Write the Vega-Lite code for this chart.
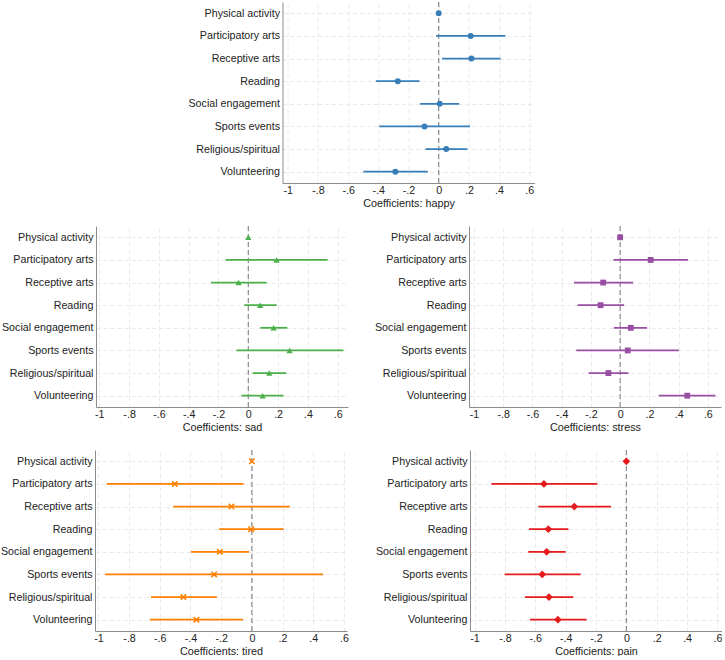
{
  "$schema": "https://vega.github.io/schema/vega-lite/v6.json",
  "padding": {"left": 0, "top": 1, "right": 0, "bottom": 0},
  "background": "white",
  "datasets": {
    "coefs": [
      {"outcome": "happy", "activity": "Physical activity", "coef": 0},
      {"outcome": "happy", "activity": "Participatory arts", "coef": 0.212, "lo": -0.018, "hi": 0.442},
      {"outcome": "happy", "activity": "Receptive arts", "coef": 0.217, "lo": 0.022, "hi": 0.411},
      {"outcome": "happy", "activity": "Reading", "coef": -0.271, "lo": -0.416, "hi": -0.127},
      {"outcome": "happy", "activity": "Social engagement", "coef": 0.007, "lo": -0.123, "hi": 0.136},
      {"outcome": "happy", "activity": "Sports events", "coef": -0.094, "lo": -0.394, "hi": 0.208},
      {"outcome": "happy", "activity": "Religious/spiritual", "coef": 0.05, "lo": -0.088, "hi": 0.19},
      {"outcome": "happy", "activity": "Volunteering", "coef": -0.287, "lo": -0.499, "hi": -0.072},

      {"outcome": "sad", "activity": "Physical activity", "coef": 0},
      {"outcome": "sad", "activity": "Participatory arts", "coef": 0.19, "lo": -0.152, "hi": 0.532},
      {"outcome": "sad", "activity": "Receptive arts", "coef": -0.065, "lo": -0.25, "hi": 0.123},
      {"outcome": "sad", "activity": "Reading", "coef": 0.08, "lo": -0.027, "hi": 0.19},
      {"outcome": "sad", "activity": "Social engagement", "coef": 0.17, "lo": 0.08, "hi": 0.262},
      {"outcome": "sad", "activity": "Sports events", "coef": 0.277, "lo": -0.08, "hi": 0.638},
      {"outcome": "sad", "activity": "Religious/spiritual", "coef": 0.141, "lo": 0.029, "hi": 0.255},
      {"outcome": "sad", "activity": "Volunteering", "coef": 0.096, "lo": -0.047, "hi": 0.237},

      {"outcome": "stress", "activity": "Physical activity", "coef": 0},
      {"outcome": "stress", "activity": "Participatory arts", "coef": 0.209, "lo": -0.045, "hi": 0.464},
      {"outcome": "stress", "activity": "Receptive arts", "coef": -0.116, "lo": -0.316, "hi": 0.089},
      {"outcome": "stress", "activity": "Reading", "coef": -0.134, "lo": -0.291, "hi": 0.027},
      {"outcome": "stress", "activity": "Social engagement", "coef": 0.073, "lo": -0.043, "hi": 0.184},
      {"outcome": "stress", "activity": "Sports events", "coef": 0.052, "lo": -0.3, "hi": 0.402},
      {"outcome": "stress", "activity": "Religious/spiritual", "coef": -0.08, "lo": -0.216, "hi": 0.057},
      {"outcome": "stress", "activity": "Volunteering", "coef": 0.459, "lo": 0.264, "hi": 0.652},

      {"outcome": "tired", "activity": "Physical activity", "coef": 0},
      {"outcome": "tired", "activity": "Participatory arts", "coef": -0.502, "lo": -0.946, "hi": -0.054},
      {"outcome": "tired", "activity": "Receptive arts", "coef": -0.133, "lo": -0.513, "hi": 0.248},
      {"outcome": "tired", "activity": "Reading", "coef": -0.004, "lo": -0.213, "hi": 0.207},
      {"outcome": "tired", "activity": "Social engagement", "coef": -0.209, "lo": -0.396, "hi": -0.017},
      {"outcome": "tired", "activity": "Sports events", "coef": -0.246, "lo": -0.957, "hi": 0.465},
      {"outcome": "tired", "activity": "Religious/spiritual", "coef": -0.446, "lo": -0.657, "hi": -0.228},
      {"outcome": "tired", "activity": "Volunteering", "coef": -0.361, "lo": -0.665, "hi": -0.057},

      {"outcome": "pain", "activity": "Physical activity", "coef": 0},
      {"outcome": "pain", "activity": "Participatory arts", "coef": -0.543, "lo": -0.89, "hi": -0.191},
      {"outcome": "pain", "activity": "Receptive arts", "coef": -0.343, "lo": -0.58, "hi": -0.101},
      {"outcome": "pain", "activity": "Reading", "coef": -0.514, "lo": -0.642, "hi": -0.382},
      {"outcome": "pain", "activity": "Social engagement", "coef": -0.525, "lo": -0.646, "hi": -0.4},
      {"outcome": "pain", "activity": "Sports events", "coef": -0.554, "lo": -0.802, "hi": -0.301},
      {"outcome": "pain", "activity": "Religious/spiritual", "coef": -0.51, "lo": -0.668, "hi": -0.349},
      {"outcome": "pain", "activity": "Volunteering", "coef": -0.451, "lo": -0.635, "hi": -0.262}
    ]
  },
  "data": {"name": "coefs"},
  "center": true,
  "spacing": 17,
  "vconcat": [
    {
      "width": 252, "height": 181,
      "transform": [{"filter": "datum.outcome === 'happy'"}],
      "layer": [
        {
          "transform": [{"filter": "datum.activity === 'Physical activity'"}],
          "mark": {"type": "rule", "color": "#8a8a8a", "strokeDash": [5, 3], "strokeWidth": 1.2},
          "encoding": {"x": {"datum": 0, "type": "quantitative", "scale": {"domain": [-1.035, 0.635], "nice": false, "zero": false}, "title": "Coefficients: happy",
            "axis": {"values": [-1, -0.8, -0.6, -0.4, -0.2, 0, 0.2, 0.4, 0.6], "labelOverlap": false, "labelExpr": "datum.value == 0 ? '0' : datum.value == -1 ? '-1' : (datum.value < 0 ? '-' : '') + '.' + round(abs(datum.value) * 10)", "grid": true}}}
        },
        {
          "mark": {"type": "rule", "color": "#377eb8", "strokeWidth": 1.8},
          "encoding": {
            "x": {"field": "lo", "type": "quantitative", "scale": {"domain": [-1.035, 0.635], "nice": false, "zero": false}, "title": "Coefficients: happy", "axis": {"values": [-1, -0.8, -0.6, -0.4, -0.2, 0, 0.2, 0.4, 0.6], "labelOverlap": false, "labelExpr": "datum.value == 0 ? '0' : datum.value == -1 ? '-1' : (datum.value < 0 ? '-' : '') + '.' + round(abs(datum.value) * 10)", "grid": true}},
            "x2": {"field": "hi"},
            "y": {"field": "activity", "type": "nominal", "sort": ["Physical activity", "Participatory arts", "Receptive arts", "Reading", "Social engagement", "Sports events", "Religious/spiritual", "Volunteering"], "scale": {"type": "point", "padding": 0.5}, "axis": {"title": null, "grid": true}}
          }
        },
        {
          "mark": {"type": "point", "filled": true, "opacity": 1, "shape": "circle", "size": 36, "color": "#377eb8"},
          "encoding": {
            "x": {"field": "coef", "type": "quantitative", "scale": {"domain": [-1.035, 0.635], "nice": false, "zero": false}, "title": "Coefficients: happy", "axis": {"values": [-1, -0.8, -0.6, -0.4, -0.2, 0, 0.2, 0.4, 0.6], "labelOverlap": false, "labelExpr": "datum.value == 0 ? '0' : datum.value == -1 ? '-1' : (datum.value < 0 ? '-' : '') + '.' + round(abs(datum.value) * 10)", "grid": true}},
            "y": {"field": "activity", "type": "nominal", "sort": ["Physical activity", "Participatory arts", "Receptive arts", "Reading", "Social engagement", "Sports events", "Religious/spiritual", "Volunteering"], "scale": {"type": "point", "padding": 0.5}, "axis": {"title": null, "grid": true}}
          }
        }
      ]
    },
    {
      "spacing": 26,
      "hconcat": [
        {
          "width": 252, "height": 181,
          "transform": [{"filter": "datum.outcome === 'sad'"}],
          "layer": [
            {
              "transform": [{"filter": "datum.activity === 'Physical activity'"}],
              "mark": {"type": "rule", "color": "#8a8a8a", "strokeDash": [5, 3], "strokeWidth": 1.2},
              "encoding": {"x": {"datum": 0, "type": "quantitative", "scale": {"domain": [-1.022, 0.669], "nice": false, "zero": false}, "title": "Coefficients: sad",
                "axis": {"values": [-1, -0.8, -0.6, -0.4, -0.2, 0, 0.2, 0.4, 0.6], "labelOverlap": false, "labelExpr": "datum.value == 0 ? '0' : datum.value == -1 ? '-1' : (datum.value < 0 ? '-' : '') + '.' + round(abs(datum.value) * 10)", "grid": true}}}
            },
            {
              "mark": {"type": "rule", "color": "#4daf4a", "strokeWidth": 1.8},
              "encoding": {
                "x": {"field": "lo", "type": "quantitative", "scale": {"domain": [-1.022, 0.669], "nice": false, "zero": false}, "title": "Coefficients: sad", "axis": {"values": [-1, -0.8, -0.6, -0.4, -0.2, 0, 0.2, 0.4, 0.6], "labelOverlap": false, "labelExpr": "datum.value == 0 ? '0' : datum.value == -1 ? '-1' : (datum.value < 0 ? '-' : '') + '.' + round(abs(datum.value) * 10)", "grid": true}},
                "x2": {"field": "hi"},
                "y": {"field": "activity", "type": "nominal", "sort": ["Physical activity", "Participatory arts", "Receptive arts", "Reading", "Social engagement", "Sports events", "Religious/spiritual", "Volunteering"], "scale": {"type": "point", "padding": 0.5}, "axis": {"title": null, "grid": true}}
              }
            },
            {
              "mark": {"type": "point", "filled": true, "opacity": 1, "shape": "triangle-up", "size": 40, "color": "#4daf4a"},
              "encoding": {
                "x": {"field": "coef", "type": "quantitative", "scale": {"domain": [-1.022, 0.669], "nice": false, "zero": false}, "title": "Coefficients: sad", "axis": {"values": [-1, -0.8, -0.6, -0.4, -0.2, 0, 0.2, 0.4, 0.6], "labelOverlap": false, "labelExpr": "datum.value == 0 ? '0' : datum.value == -1 ? '-1' : (datum.value < 0 ? '-' : '') + '.' + round(abs(datum.value) * 10)", "grid": true}},
                "y": {"field": "activity", "type": "nominal", "sort": ["Physical activity", "Participatory arts", "Receptive arts", "Reading", "Social engagement", "Sports events", "Religious/spiritual", "Volunteering"], "scale": {"type": "point", "padding": 0.5}, "axis": {"title": null, "grid": true}}
              }
            }
          ]
        },
        {
          "width": 252, "height": 181,
          "transform": [{"filter": "datum.outcome === 'stress'"}],
          "layer": [
            {
              "transform": [{"filter": "datum.activity === 'Physical activity'"}],
              "mark": {"type": "rule", "color": "#8a8a8a", "strokeDash": [5, 3], "strokeWidth": 1.2},
              "encoding": {"x": {"datum": 0, "type": "quantitative", "scale": {"domain": [-1.034, 0.69], "nice": false, "zero": false}, "title": "Coefficients: stress",
                "axis": {"values": [-1, -0.8, -0.6, -0.4, -0.2, 0, 0.2, 0.4, 0.6], "labelOverlap": false, "labelExpr": "datum.value == 0 ? '0' : datum.value == -1 ? '-1' : (datum.value < 0 ? '-' : '') + '.' + round(abs(datum.value) * 10)", "grid": true}}}
            },
            {
              "mark": {"type": "rule", "color": "#984ea3", "strokeWidth": 1.8},
              "encoding": {
                "x": {"field": "lo", "type": "quantitative", "scale": {"domain": [-1.034, 0.69], "nice": false, "zero": false}, "title": "Coefficients: stress", "axis": {"values": [-1, -0.8, -0.6, -0.4, -0.2, 0, 0.2, 0.4, 0.6], "labelOverlap": false, "labelExpr": "datum.value == 0 ? '0' : datum.value == -1 ? '-1' : (datum.value < 0 ? '-' : '') + '.' + round(abs(datum.value) * 10)", "grid": true}},
                "x2": {"field": "hi"},
                "y": {"field": "activity", "type": "nominal", "sort": ["Physical activity", "Participatory arts", "Receptive arts", "Reading", "Social engagement", "Sports events", "Religious/spiritual", "Volunteering"], "scale": {"type": "point", "padding": 0.5}, "axis": {"title": null, "grid": true}}
              }
            },
            {
              "mark": {"type": "point", "filled": true, "opacity": 1, "shape": "square", "size": 34, "color": "#984ea3"},
              "encoding": {
                "x": {"field": "coef", "type": "quantitative", "scale": {"domain": [-1.034, 0.69], "nice": false, "zero": false}, "title": "Coefficients: stress", "axis": {"values": [-1, -0.8, -0.6, -0.4, -0.2, 0, 0.2, 0.4, 0.6], "labelOverlap": false, "labelExpr": "datum.value == 0 ? '0' : datum.value == -1 ? '-1' : (datum.value < 0 ? '-' : '') + '.' + round(abs(datum.value) * 10)", "grid": true}},
                "y": {"field": "activity", "type": "nominal", "sort": ["Physical activity", "Participatory arts", "Receptive arts", "Reading", "Social engagement", "Sports events", "Religious/spiritual", "Volunteering"], "scale": {"type": "point", "padding": 0.5}, "axis": {"title": null, "grid": true}}
              }
            }
          ]
        }
      ]
    },
    {
      "spacing": 26,
      "hconcat": [
        {
          "width": 252, "height": 181,
          "transform": [{"filter": "datum.outcome === 'tired'"}],
          "layer": [
            {
              "transform": [{"filter": "datum.activity === 'Physical activity'"}],
              "mark": {"type": "rule", "color": "#8a8a8a", "strokeDash": [5, 3], "strokeWidth": 1.2},
              "encoding": {"x": {"datum": 0, "type": "quantitative", "scale": {"domain": [-1.022, 0.62], "nice": false, "zero": false}, "title": "Coefficients: tired",
                "axis": {"values": [-1, -0.8, -0.6, -0.4, -0.2, 0, 0.2, 0.4, 0.6], "labelOverlap": false, "labelExpr": "datum.value == 0 ? '0' : datum.value == -1 ? '-1' : (datum.value < 0 ? '-' : '') + '.' + round(abs(datum.value) * 10)", "grid": true}}}
            },
            {
              "mark": {"type": "rule", "color": "#ff7f00", "strokeWidth": 1.8},
              "encoding": {
                "x": {"field": "lo", "type": "quantitative", "scale": {"domain": [-1.022, 0.62], "nice": false, "zero": false}, "title": "Coefficients: tired", "axis": {"values": [-1, -0.8, -0.6, -0.4, -0.2, 0, 0.2, 0.4, 0.6], "labelOverlap": false, "labelExpr": "datum.value == 0 ? '0' : datum.value == -1 ? '-1' : (datum.value < 0 ? '-' : '') + '.' + round(abs(datum.value) * 10)", "grid": true}},
                "x2": {"field": "hi"},
                "y": {"field": "activity", "type": "nominal", "sort": ["Physical activity", "Participatory arts", "Receptive arts", "Reading", "Social engagement", "Sports events", "Religious/spiritual", "Volunteering"], "scale": {"type": "point", "padding": 0.5}, "axis": {"title": null, "grid": true}}
              }
            },
            {
              "mark": {"type": "point", "filled": false, "opacity": 1, "shape": "M-1,-1L1,1M-1,1L1,-1", "size": 30, "strokeWidth": 1.6, "color": "#ff7f00"},
              "encoding": {
                "x": {"field": "coef", "type": "quantitative", "scale": {"domain": [-1.022, 0.62], "nice": false, "zero": false}, "title": "Coefficients: tired", "axis": {"values": [-1, -0.8, -0.6, -0.4, -0.2, 0, 0.2, 0.4, 0.6], "labelOverlap": false, "labelExpr": "datum.value == 0 ? '0' : datum.value == -1 ? '-1' : (datum.value < 0 ? '-' : '') + '.' + round(abs(datum.value) * 10)", "grid": true}},
                "y": {"field": "activity", "type": "nominal", "sort": ["Physical activity", "Participatory arts", "Receptive arts", "Reading", "Social engagement", "Sports events", "Religious/spiritual", "Volunteering"], "scale": {"type": "point", "padding": 0.5}, "axis": {"title": null, "grid": true}}
              }
            }
          ]
        },
        {
          "width": 252, "height": 181,
          "transform": [{"filter": "datum.outcome === 'pain'"}],
          "layer": [
            {
              "transform": [{"filter": "datum.activity === 'Physical activity'"}],
              "mark": {"type": "rule", "color": "#8a8a8a", "strokeDash": [5, 3], "strokeWidth": 1.2},
              "encoding": {"x": {"datum": 0, "type": "quantitative", "scale": {"domain": [-1.03, 0.63], "nice": false, "zero": false}, "title": "Coefficients: pain",
                "axis": {"values": [-1, -0.8, -0.6, -0.4, -0.2, 0, 0.2, 0.4, 0.6], "labelOverlap": false, "labelExpr": "datum.value == 0 ? '0' : datum.value == -1 ? '-1' : (datum.value < 0 ? '-' : '') + '.' + round(abs(datum.value) * 10)", "grid": true}}}
            },
            {
              "mark": {"type": "rule", "color": "#e41a1c", "strokeWidth": 1.8},
              "encoding": {
                "x": {"field": "lo", "type": "quantitative", "scale": {"domain": [-1.03, 0.63], "nice": false, "zero": false}, "title": "Coefficients: pain", "axis": {"values": [-1, -0.8, -0.6, -0.4, -0.2, 0, 0.2, 0.4, 0.6], "labelOverlap": false, "labelExpr": "datum.value == 0 ? '0' : datum.value == -1 ? '-1' : (datum.value < 0 ? '-' : '') + '.' + round(abs(datum.value) * 10)", "grid": true}},
                "x2": {"field": "hi"},
                "y": {"field": "activity", "type": "nominal", "sort": ["Physical activity", "Participatory arts", "Receptive arts", "Reading", "Social engagement", "Sports events", "Religious/spiritual", "Volunteering"], "scale": {"type": "point", "padding": 0.5}, "axis": {"title": null, "grid": true}}
              }
            },
            {
              "mark": {"type": "point", "filled": true, "opacity": 1, "shape": "diamond", "size": 60, "color": "#e41a1c"},
              "encoding": {
                "x": {"field": "coef", "type": "quantitative", "scale": {"domain": [-1.03, 0.63], "nice": false, "zero": false}, "title": "Coefficients: pain", "axis": {"values": [-1, -0.8, -0.6, -0.4, -0.2, 0, 0.2, 0.4, 0.6], "labelOverlap": false, "labelExpr": "datum.value == 0 ? '0' : datum.value == -1 ? '-1' : (datum.value < 0 ? '-' : '') + '.' + round(abs(datum.value) * 10)", "grid": true}},
                "y": {"field": "activity", "type": "nominal", "sort": ["Physical activity", "Participatory arts", "Receptive arts", "Reading", "Social engagement", "Sports events", "Religious/spiritual", "Volunteering"], "scale": {"type": "point", "padding": 0.5}, "axis": {"title": null, "grid": true}}
              }
            }
          ]
        }
      ]
    }
  ],
  "config": {
    "view": {"stroke": null},
    "font": "Liberation Sans",
    "axis": {
      "domainColor": "#8c8c8c",
      "domainWidth": 1,
      "ticks": false,
      "tickSize": 0,
      "labelFont": "Liberation Sans",
      "labelFontSize": 10.7,
      "labelColor": "#222222",
      "labelOverlap": false,
      "labelFlush": false,
      "titleFont": "Liberation Sans",
      "titleFontSize": 10.8,
      "titleFontWeight": "normal",
      "titleColor": "#222222",
      "gridColor": "#e9e9e9",
      "gridDash": [4, 3],
      "gridWidth": 1
    },
    "axisX": {"labelPadding": 2.5, "titlePadding": 2},
    "axisY": {"labelPadding": 3}
  }
}
